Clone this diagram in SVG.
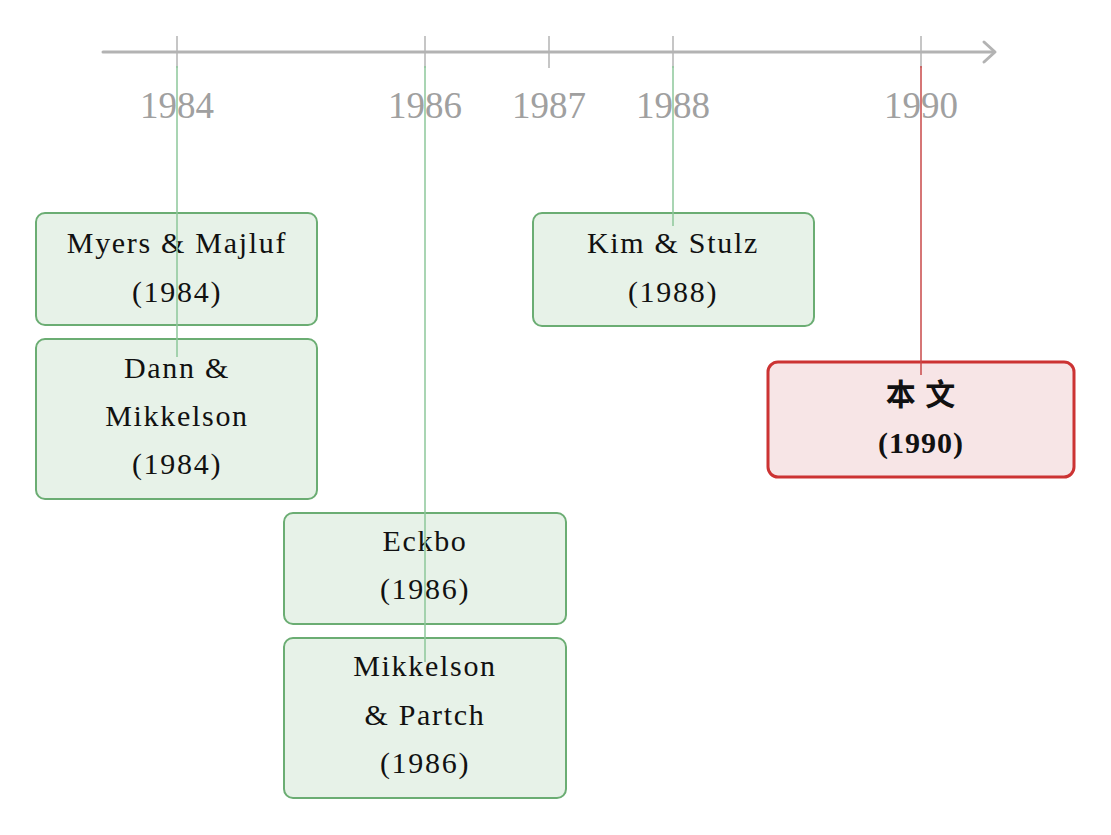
<svg xmlns="http://www.w3.org/2000/svg" width="1111" height="835" viewBox="0 0 1111 835">
<defs>
<style>
.axis{stroke:#b3b3b3;stroke-width:3;fill:none;stroke-linecap:round;stroke-linejoin:round}
.tick{stroke:#b3b3b3;stroke-width:1.5}
.year{font-family:"Liberation Serif",serif;font-size:37px;fill:#a0a0a0;text-anchor:middle}
.box{fill:#e7f2e8;stroke:#6bad73;stroke-width:2}
.hl{fill:#f7e5e6;stroke:#cc3333;stroke-width:3}
.t{font-family:"Liberation Serif",serif;font-size:30px;fill:#111;text-anchor:middle;letter-spacing:1.7px}
.tb{font-family:"Liberation Serif","Noto Sans CJK SC",serif;font-size:30px;font-weight:bold;fill:#111;text-anchor:middle;letter-spacing:1px}
.cg{stroke:#8cc79a;stroke-width:1.5}
.cr{stroke:#c84848;stroke-width:1.5}
</style>
</defs>
<rect width="1111" height="835" fill="#ffffff"/>
<g id="axis">
<line class="axis" x1="103" y1="52" x2="993" y2="52"/>
<polyline class="axis" points="984,42 995,52 984,62"/>
<line class="tick" x1="177" y1="36" x2="177" y2="68"/>
<line class="tick" x1="425" y1="36" x2="425" y2="68"/>
<line class="tick" x1="549" y1="36" x2="549" y2="68"/>
<line class="tick" x1="673" y1="36" x2="673" y2="68"/>
<line class="tick" x1="921" y1="36" x2="921" y2="68"/>
<text class="year" x="177" y="118">1984</text>
<text class="year" x="425" y="118">1986</text>
<text class="year" x="549" y="118">1987</text>
<text class="year" x="673" y="118">1988</text>
<text class="year" x="921" y="118">1990</text>
</g>
<g id="myers">
<rect class="box" x="36" y="213" width="281" height="112" rx="9"/>
<text class="t" x="177" y="253">Myers &amp; Majluf</text>
<text class="t" x="177" y="302">(1984)</text>
</g>
<g id="dann">
<rect class="box" x="36" y="339" width="281" height="160" rx="9"/>
<text class="t" x="177" y="378">Dann &amp;</text>
<text class="t" x="177" y="426">Mikkelson</text>
<text class="t" x="177" y="474">(1984)</text>
</g>
<g id="kim">
<rect class="box" x="533" y="213" width="281" height="113" rx="9"/>
<text class="t" x="673" y="253">Kim &amp; Stulz</text>
<text class="t" x="673" y="302">(1988)</text>
</g>
<g id="eckbo">
<rect class="box" x="284" y="513" width="282" height="111" rx="9"/>
<text class="t" x="425" y="551">Eckbo</text>
<text class="t" x="425" y="599">(1986)</text>
</g>
<g id="mikkelson">
<rect class="box" x="284" y="638" width="282" height="160" rx="9"/>
<text class="t" x="425" y="676">Mikkelson</text>
<text class="t" x="425" y="725">&amp; Partch</text>
<text class="t" x="425" y="773">(1986)</text>
</g>
<g id="benwen">
<rect class="hl" x="768" y="362" width="306" height="115" rx="10"/>
<text class="tb" x="921" y="405">本 文</text>
<text class="tb" x="921" y="453">(1990)</text>
</g>
<g id="connectors">
<line class="cg" x1="177" y1="66" x2="177" y2="357"/>
<line class="cg" x1="425" y1="66" x2="425" y2="662"/>
<line class="cg" x1="673" y1="66" x2="673" y2="226"/>
<line class="cr" x1="921" y1="66" x2="921" y2="375"/>
</g>
</svg>
